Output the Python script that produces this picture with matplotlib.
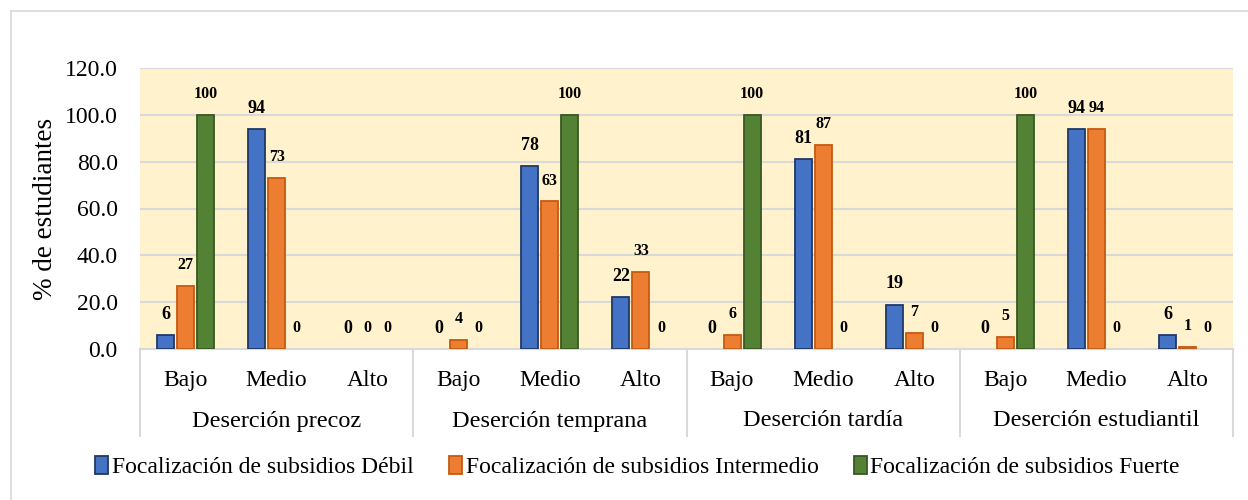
import matplotlib
matplotlib.use("Agg")
import matplotlib.pyplot as plt
import numpy as np
from matplotlib.lines import Line2D
from matplotlib.patches import Patch

groups = ["Deserción precoz", "Deserción temprana", "Deserción tardía", "Deserción estudiantil"]
levels = ["Bajo", "Medio", "Alto"]
series_names = ["Focalización de subsidios Débil",
                "Focalización de subsidios Intermedio",
                "Focalización de subsidios Fuerte"]
debil = [6, 94, 0, 0, 78, 22, 0, 81, 19, 0, 94, 6]
intermedio = [27, 73, 0, 4, 63, 33, 6, 87, 7, 5, 94, 1]
fuerte = [100, 0, 0, 0, 100, 0, 100, 0, 0, 100, 0, 0]
yticks = [0, 20, 40, 60, 80, 100, 120]

plt.rcParams['font.family'] = ['Liberation Serif', 'DejaVu Serif']

fig = plt.figure(figsize=(12.48, 5.0), dpi=100)
ax = fig.add_axes([140/1248, 1-349/500, (1233-140)/1248, (349-68)/500])
ax.set_facecolor('#FFF2CC')

faces = ['#4472C4', '#ED7D31', '#548235']
edges = ['#203864', '#C55A11', '#385723']
label_sizes = [13, 11.5, 11.5]
data = [debil, intermedio, fuerte]
n = len(debil)
x = np.arange(n)
off = 0.22
w = 0.187
for i, (vals, fc, ec, ls) in enumerate(zip(data, faces, edges, label_sizes)):
    xs = x + (i - 1) * off
    lws = [1.3 if v > 0 else 0 for v in vals]
    ax.bar(xs, vals, width=w, color=fc, edgecolor=ec, linewidth=lws, zorder=3)
    for xi, v in zip(xs, vals):
        ax.annotate(f"{v}", (xi, v), xytext=(0, 15), textcoords='offset points',
                    ha='center', va='center', fontsize=ls, fontweight='bold', zorder=4)

ax.set_xlim(-0.5, n - 0.5)
ax.set_ylim(0, 120)
ax.set_yticks(yticks)
ax.set_yticklabels([f"{t:.1f}" for t in yticks], fontsize=17)
ax.yaxis.grid(True, color='#D9D9D9', linewidth=1.5, zorder=0)
ax.set_axisbelow(True)
for s in ['top', 'right', 'left']:
    ax.spines[s].set_visible(False)
ax.spines['bottom'].set_color('#D9D9D9')
ax.spines['bottom'].set_linewidth(1.5)
ax.tick_params(axis='y', length=0, pad=16)
ax.tick_params(axis='x', length=0, pad=15)
ax.set_xticks(x)
ax.set_xticklabels(levels * len(groups), fontsize=17)
ax.set_ylabel("% de estudiantes", fontsize=19.5, labelpad=5)

# group separators and labels
trans = ax.get_xaxis_transform()
for g in range(len(groups) + 1):
    xb = g * 3 - 0.5
    ax.add_line(Line2D([xb, xb], [0, -87/281], transform=trans, color='#D9D9D9',
                       linewidth=1.5, clip_on=False))
for g, name in enumerate(groups):
    ax.text(g * 3 + 1, -72/281, name, transform=trans, ha='center', va='center', fontsize=17.5)

handles = [Patch(facecolor=fc, edgecolor=ec, linewidth=1.3) for fc, ec in zip(faces, edges)]
fig.legend(handles, series_names, loc='center', bbox_to_anchor=(0.511, 1-467/500), ncol=3,
           frameon=False, fontsize=17, handlelength=0.55, handleheight=0.8,
           handletextpad=0.15, columnspacing=1.5)

# outer chart border (top & left visible)
fig.add_artist(Line2D([11/1248, 1.0], [1-11/500, 1-11/500], transform=fig.transFigure,
                      color='#D9D9D9', linewidth=1.2))
fig.add_artist(Line2D([11/1248, 11/1248], [0.0, 1-11/500], transform=fig.transFigure,
                      color='#D9D9D9', linewidth=1.2))

fig.savefig("out.png", dpi=100)
